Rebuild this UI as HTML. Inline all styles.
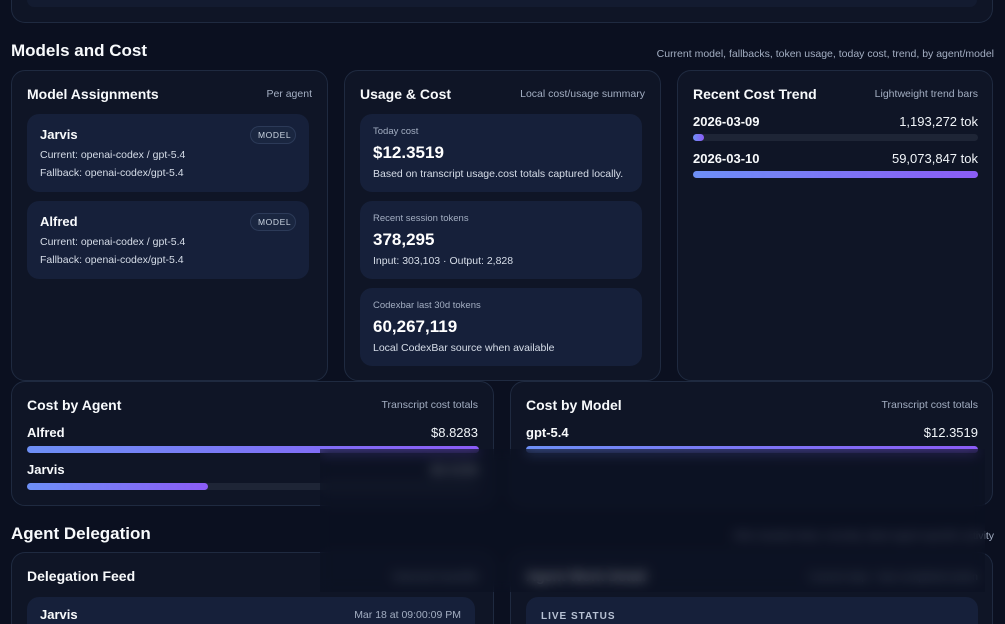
<!DOCTYPE html>
<html style="width:1005px;height:624px;overflow:hidden"><head><meta charset="utf-8"><style>
*{box-sizing:border-box;margin:0;padding:0}
body{width:1005px;height:624px;overflow:hidden;background:#0b1020;font-family:"Liberation Sans",sans-serif;color:#f1f5f9;position:relative}
.a{position:absolute}
.card{position:absolute;background:#0f1526;border:1px solid #1f2a40;border-radius:14px}
.in{position:absolute;background:#16203a;border-radius:12px}
.t{position:absolute;font-weight:bold;font-size:14px;color:#f8fafc}
.m{position:absolute;font-size:10.5px;color:#a3aec2}
.h{position:absolute;font-weight:bold;font-size:17px;color:#f8fafc}
.s{position:absolute;font-size:10.5px;color:#d6dde8}
.b{position:absolute;font-weight:bold;font-size:17px;color:#fff}
.track{position:absolute;height:7px;border-radius:4px;background:#1e2536}
.fill{position:absolute;height:7px;border-radius:4px;background:linear-gradient(90deg,#6d8ff5,#8b5cf6)}
.pill{position:absolute;border:1px solid #2c3a58;background:#1a2640;border-radius:10px;font-size:8.5px;letter-spacing:0.6px;color:#cbd5e1;padding:3px 7px;width:46px;text-align:center}
.blur{position:absolute;left:320px;top:449px;width:665px;height:143px;backdrop-filter:blur(6px);background:rgba(11,16,32,0.55)}
</style></head><body>
<div class="card" style="left:11px;top:0px;width:982px;height:23px;border-top:none;border-radius:0 0 14px 14px"></div>
<div class="in" style="left:27px;top:0px;width:950px;height:7px;background:#131b30;border-radius:0 0 10px 10px"></div>

<div class="h" style="left:11px;top:41px">Models and Cost</div>
<div class="m" style="right:11px;top:48px">Current model, fallbacks, token usage, today cost, trend, by agent/model</div>

<div class="card" style="left:11px;top:70px;width:317px;height:311px"></div>
<div class="t" style="left:27px;top:86px">Model Assignments</div>
<div class="m" style="right:693px;top:88px">Per agent</div>
<div class="in" style="left:27px;top:114px;width:282px;height:78px"></div>
<div class="t" style="left:40px;top:127px;font-size:13px">Jarvis</div>
<div class="pill" style="left:250px;top:126px">MODEL</div>
<div class="s" style="left:40px;top:149px">Current: openai-codex / gpt-5.4</div>
<div class="s" style="left:40px;top:167px">Fallback: openai-codex/gpt-5.4</div>
<div class="in" style="left:27px;top:201px;width:282px;height:78px"></div>
<div class="t" style="left:40px;top:214px;font-size:13px">Alfred</div>
<div class="pill" style="left:250px;top:213px">MODEL</div>
<div class="s" style="left:40px;top:236px">Current: openai-codex / gpt-5.4</div>
<div class="s" style="left:40px;top:254px">Fallback: openai-codex/gpt-5.4</div>

<div class="card" style="left:344px;top:70px;width:317px;height:311px"></div>
<div class="t" style="left:360px;top:86px">Usage &amp; Cost</div>
<div class="m" style="right:360px;top:88px">Local cost/usage summary</div>
<div class="in" style="left:360px;top:114px;width:282px;height:78px"></div>
<div class="m" style="left:373px;top:126px;font-size:9.5px">Today cost</div>
<div class="b" style="left:373px;top:143px">$12.3519</div>
<div class="s" style="left:373px;top:168px">Based on transcript usage.cost totals captured locally.</div>
<div class="in" style="left:360px;top:201px;width:282px;height:78px"></div>
<div class="m" style="left:373px;top:213px;font-size:9.5px">Recent session tokens</div>
<div class="b" style="left:373px;top:230px">378,295</div>
<div class="s" style="left:373px;top:255px">Input: 303,103 · Output: 2,828</div>
<div class="in" style="left:360px;top:288px;width:282px;height:78px"></div>
<div class="m" style="left:373px;top:300px;font-size:9.5px">Codexbar last 30d tokens</div>
<div class="b" style="left:373px;top:317px">60,267,119</div>
<div class="s" style="left:373px;top:342px">Local CodexBar source when available</div>

<div class="card" style="left:677px;top:70px;width:316px;height:311px"></div>
<div class="t" style="left:693px;top:86px">Recent Cost Trend</div>
<div class="m" style="right:27px;top:88px">Lightweight trend bars</div>
<div class="t" style="left:693px;top:114px;font-size:13px">2026-03-09</div>
<div class="a" style="right:27px;top:114px;font-size:13px">1,193,272 tok</div>
<div class="track" style="left:693px;top:134px;width:285px"></div>
<div class="fill" style="left:693px;top:134px;width:11px"></div>
<div class="t" style="left:693px;top:151px;font-size:13px">2026-03-10</div>
<div class="a" style="right:27px;top:151px;font-size:13px">59,073,847 tok</div>
<div class="fill" style="left:693px;top:171px;width:285px"></div>

<div class="card" style="left:11px;top:381px;width:483px;height:125px"></div>
<div class="t" style="left:27px;top:397px">Cost by Agent</div>
<div class="m" style="right:527px;top:399px">Transcript cost totals</div>
<div class="t" style="left:27px;top:425px;font-size:13px">Alfred</div>
<div class="a" style="right:527px;top:425px;font-size:13px">$8.8283</div>
<div class="fill" style="left:27px;top:446px;width:452px"></div>
<div class="t" style="left:27px;top:462px;font-size:13px">Jarvis</div>
<div class="a" style="right:527px;top:462px;font-size:13px">$3.5236</div>
<div class="track" style="left:27px;top:483px;width:452px"></div>
<div class="fill" style="left:27px;top:483px;width:181px"></div>

<div class="card" style="left:510px;top:381px;width:483px;height:125px"></div>
<div class="t" style="left:526px;top:397px">Cost by Model</div>
<div class="m" style="right:27px;top:399px">Transcript cost totals</div>
<div class="t" style="left:526px;top:425px;font-size:13px">gpt-5.4</div>
<div class="a" style="right:27px;top:425px;font-size:13px">$12.3519</div>
<div class="fill" style="left:526px;top:446px;width:452px"></div>

<div class="h" style="left:11px;top:524px">Agent Delegation</div>
<div class="m" style="right:11px;top:530px">Who handed what, recently, latest agent-specific activity</div>

<div class="card" style="left:11px;top:552px;width:483px;height:72px;border-bottom:none;border-radius:14px 14px 0 0"></div>
<div class="t" style="left:27px;top:568px">Delegation Feed</div>
<div class="m" style="right:527px;top:571px">Detected handoffs</div>
<div class="in" style="left:27px;top:597px;width:448px;height:27px;border-radius:12px 12px 0 0"></div>
<div class="t" style="left:40px;top:607px;font-size:13px">Jarvis</div>
<div class="m" style="right:544px;top:609px">Mar 18 at 09:00:09 PM</div>

<div class="card" style="left:510px;top:552px;width:483px;height:72px;border-bottom:none;border-radius:14px 14px 0 0"></div>
<div class="t" style="left:526px;top:568px">Agent Work Detail</div>
<div class="m" style="right:27px;top:571px">Current step + last completed action</div>
<div class="in" style="left:526px;top:597px;width:452px;height:27px;border-radius:12px 12px 0 0"></div>
<div class="a" style="left:541px;top:611px;font-size:10px;font-weight:bold;letter-spacing:1px;color:#b8c2d4">LIVE STATUS</div>

<div class="blur"></div>
</body></html>
